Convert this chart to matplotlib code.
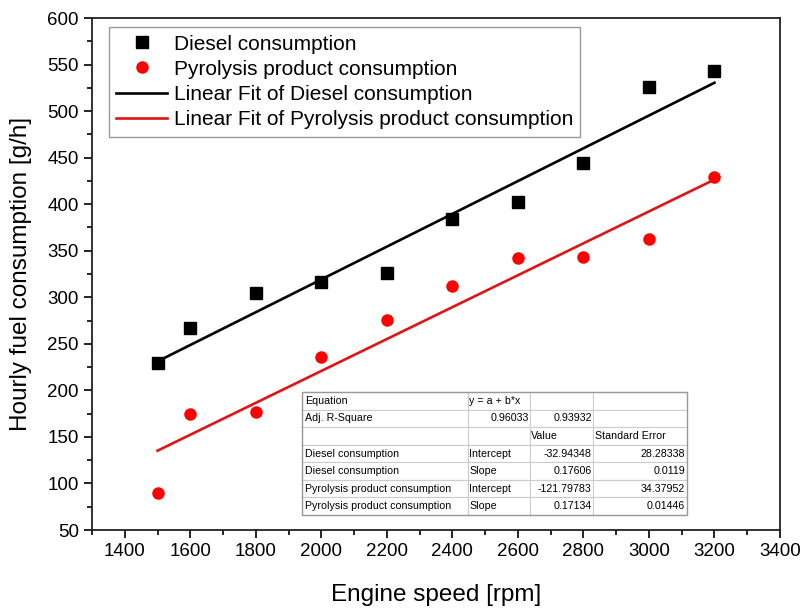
import numpy as np
import matplotlib
matplotlib.use("Agg")
import matplotlib.pyplot as plt
from matplotlib.table import Table
from matplotlib.ticker import MultipleLocator

plt.rcParams["font.family"] = ["Liberation Sans", "DejaVu Sans"]

# engine speed [rpm]
speed = [1500, 1600, 1800, 2000, 2200, 2400, 2600, 2800, 3000, 3200]
# hourly fuel consumption [g/h]
diesel = [229, 267, 305, 316, 326, 384, 402, 444, 526, 543]
pyrolysis = [90, 175, 177, 236, 276, 312, 342, 343, 363, 429]

# linear fit results (from the fit table)
diesel_fit = (-32.94348, 0.17606)
pyro_fit = (-121.79783, 0.17134)

table_rows = [
    ["Equation", "y = a + b*x", "", ""],
    ["Adj. R-Square", "0.96033", "0.93932", ""],
    ["", "", "Value", "Standard Error"],
    ["Diesel consumption", "Intercept", "-32.94348", "28.28338"],
    ["Diesel consumption", "Slope", "0.17606", "0.0119"],
    ["Pyrolysis product consumption", "Intercept", "-121.79783", "34.37952"],
    ["Pyrolysis product consumption", "Slope", "0.17134", "0.01446"],
]
# alignment for each cell
table_align = [
    ["left", "left", "left", "left"],
    ["left", "right", "right", "left"],
    ["left", "left", "left", "left"],
    ["left", "left", "right", "right"],
    ["left", "left", "right", "right"],
    ["left", "left", "right", "right"],
    ["left", "left", "right", "right"],
]
col_widths = [0.431, 0.161, 0.164, 0.244]

fig = plt.figure(figsize=(8.03, 6.09), dpi=100)
ax = fig.add_axes([0.1146, 0.1297, 0.8567, 0.8407])

ax.plot(speed, diesel, "s", color="black", markersize=8, label="Diesel consumption", zorder=3)
ax.plot(speed, pyrolysis, "o", color="#ff0000", markersize=9, markeredgewidth=0,
        label="Pyrolysis product consumption", zorder=3)

xs = np.array([speed[0], speed[-1]])
ax.plot(xs, diesel_fit[0] + diesel_fit[1] * xs, "-", color="black", linewidth=1.9,
        label="Linear Fit of Diesel consumption")
ax.plot(xs, pyro_fit[0] + pyro_fit[1] * xs, "-", color="#dd1515", linewidth=1.9,
        label="Linear Fit of Pyrolysis product consumption")

ax.set_xlim(1300, 3400)
ax.set_ylim(50, 600)
ax.xaxis.set_major_locator(MultipleLocator(200))
ax.xaxis.set_minor_locator(MultipleLocator(100))
ax.yaxis.set_major_locator(MultipleLocator(50))
ax.yaxis.set_minor_locator(MultipleLocator(25))
ax.tick_params(which="both", direction="out", top=False, right=False, labelsize=13.5, width=1.2)
ax.tick_params(which="major", length=6)
ax.tick_params(which="minor", length=3.5)
for sp in ax.spines.values():
    sp.set_linewidth(1.3)
    sp.set_color("#222222")

ax.set_xlabel("Engine speed [rpm]", fontsize=17.5, labelpad=17)
ax.set_ylabel("Hourly fuel consumption [g/h]", fontsize=17.5, labelpad=11)

leg = ax.legend(loc="upper left", bbox_to_anchor=(0.0247, 0.982), borderaxespad=0,
                fontsize=15, fancybox=False, edgecolor="#999999", framealpha=1,
                handlelength=2.45, handletextpad=0.3, labelspacing=0.3, borderpad=0.35)
leg.get_frame().set_linewidth(1.0)

# fit result table
tbl = Table(ax, bbox=[0.3052, 0.0293, 0.5596, 0.2402])
nrows = len(table_rows)
for r, row in enumerate(table_rows):
    for c, txt in enumerate(row):
        cell = tbl.add_cell(r, c, width=col_widths[c], height=1.0 / nrows,
                            text=txt, loc=table_align[r][c])
        cell.set_edgecolor("#cccccc")
        cell.set_linewidth(0.8)
        cell.PAD = 0.02
        cell.get_text().set_fontsize(7.7)
tbl.auto_set_font_size(False)
tbl.set_zorder(4)
ax.add_table(tbl)
# outer border of the table
ax.add_patch(plt.Rectangle((0.3052, 0.0293), 0.5596, 0.2402, transform=ax.transAxes,
                           fill=False, edgecolor="#999999", linewidth=1.0, zorder=5))

fig.savefig("out.png", dpi=100)
